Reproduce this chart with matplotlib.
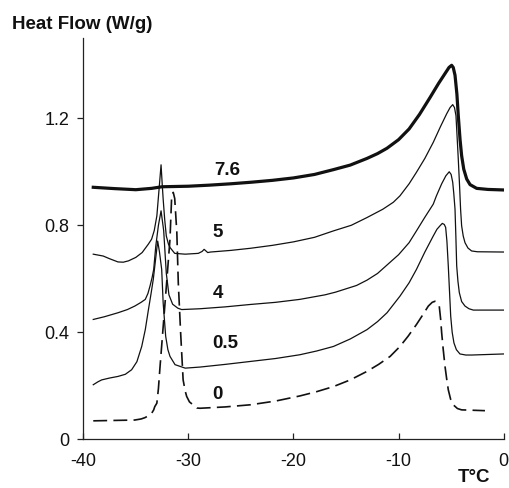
import matplotlib
matplotlib.use("Agg")
import matplotlib.pyplot as plt

plt.rcParams['font.family'] = ['Liberation Sans', 'DejaVu Sans']
plt.rcParams['lines.scale_dashes'] = False

# ---- data ----
x_76 = [-39.05, -37.0, -35.0, -33.5, -32.5, -30.0, -28.0, -26.0, -24.0, -22.0, -20.0, -18.0, -16.2,
        -14.6, -13.0, -12.0, -11.1, -10.0, -9.0, -8.0, -7.0, -6.2, -5.5, -5.2, -4.95, -4.8, -4.63,
        -4.45, -4.32, -4.15, -4.0, -3.8, -3.52, -3.2, -2.57, -1.5, 0.0]
y_76 = [0.942, 0.937, 0.933, 0.938, 0.944, 0.946, 0.950, 0.955, 0.961, 0.968, 0.977, 0.990, 1.008,
        1.025, 1.050, 1.068, 1.088, 1.120, 1.160, 1.215, 1.278, 1.330, 1.372, 1.390, 1.398, 1.390, 1.361,
        1.290, 1.210, 1.120, 1.060, 1.010, 0.973, 0.952, 0.938, 0.934, 0.932]

x_5 = [-39.05, -38.1, -37.5, -36.7, -36.2, -35.7, -35.0, -34.4, -33.8, -33.5, -33.25, -33.0, -32.8,
       -32.6, -32.5, -32.4, -32.25, -32.1, -31.9, -31.75, -31.3, -30.3, -29.06, -28.7, -28.5, -28.3,
       -28.16, -27.9, -26.0, -24.1, -22.0, -20.0, -18.0, -16.2, -14.5, -13.0, -11.5, -10.5, -9.87,
       -9.0, -8.3, -7.5, -6.7, -6.0, -5.42, -5.1, -4.85, -4.68, -4.54, -4.43, -4.32, -4.2, -4.1,
       -4.0, -3.85, -3.68, -3.4, -3.05, -2.5, 0.0]
y_5 = [0.692, 0.685, 0.675, 0.663, 0.662, 0.667, 0.680, 0.698, 0.730, 0.748, 0.780, 0.835, 0.930,
       1.026, 0.960, 0.898, 0.820, 0.760, 0.730, 0.717, 0.695, 0.692, 0.695, 0.702, 0.710, 0.703,
       0.698, 0.700, 0.706, 0.714, 0.725, 0.738, 0.755, 0.779, 0.800, 0.829, 0.860, 0.886, 0.910,
       0.955, 0.998, 1.050, 1.110, 1.170, 1.217, 1.240, 1.251, 1.240, 1.210, 1.130, 1.048, 0.950, 0.860,
       0.798, 0.760, 0.735, 0.715, 0.704, 0.701, 0.700]

x_4 = [-39.05, -38.0, -36.7, -35.8, -35.1, -34.5, -34.1, -33.85, -33.65, -33.45, -33.3, -33.1, -32.85,
       -32.6, -32.35, -32.1, -31.85, -31.5, -31.0, -30.64, -28.9, -26.5, -24.1, -21.7, -19.4, -17.0,
       -16.0, -14.0, -13.0, -12.0, -11.0, -10.0, -9.0, -8.3, -7.5, -6.7, -6.4, -5.9, -5.5, -5.18,
       -5.0, -4.85, -4.75, -4.63, -4.55, -4.47, -4.35, -4.22, -4.0, -3.68, -3.3, -2.89, 0.0]
y_4 = [0.448, 0.458, 0.473, 0.485, 0.498, 0.512, 0.523, 0.545, 0.573, 0.605, 0.635, 0.723, 0.800,
       0.854, 0.780, 0.620, 0.540, 0.505, 0.490, 0.485, 0.488, 0.495, 0.504, 0.512, 0.523, 0.540,
       0.550, 0.575, 0.595, 0.620, 0.655, 0.690, 0.735, 0.779, 0.830, 0.879, 0.910, 0.955, 0.985, 1.000,
       0.990, 0.961, 0.920, 0.860, 0.760, 0.648, 0.590, 0.548, 0.515, 0.498, 0.488, 0.483, 0.483]

x_05 = [-39.05, -38.6, -38.25, -37.5, -36.7, -36.0, -35.4, -34.9, -34.44, -34.1, -33.8, -33.55, -33.34,
        -33.1, -32.92, -32.75, -32.54, -32.4, -32.16, -31.95, -31.75, -31.27, -30.3, -28.9, -26.5,
        -24.1, -21.7, -19.4, -17.8, -16.2, -14.6, -13.0, -12.0, -11.1, -9.87, -9.0, -8.3, -7.5, -6.7,
        -6.35, -6.06, -5.84, -5.65, -5.52, -5.4, -5.27, -5.15, -5.04, -4.9, -4.73, -4.5, -4.16,
        -3.6, -3.05, 0.0]
y_05 = [0.204, 0.215, 0.222, 0.229, 0.235, 0.243, 0.260, 0.290, 0.347, 0.410, 0.485, 0.545, 0.598,
        0.680, 0.741, 0.700, 0.635, 0.510, 0.385, 0.335, 0.310, 0.279, 0.266, 0.270, 0.280,
        0.291, 0.302, 0.316, 0.330, 0.347, 0.375, 0.410, 0.440, 0.473, 0.535, 0.585, 0.635, 0.700, 0.760,
        0.785, 0.798, 0.807, 0.803, 0.792, 0.740, 0.648, 0.550, 0.460, 0.400, 0.360, 0.335, 0.319,
        0.315, 0.315, 0.319]

x_0 = [-39.05, -35.1, -34.5, -34.13, -33.8, -33.5, -33.3, -33.2, -33.0, -32.85, -32.7, -32.4, -32.07,
       -31.75, -31.6, -31.44, -31.3, -31.1, -30.96, -30.74, -30.5, -30.3, -30.16, -29.9, -29.2,
       -28.9, -26.5, -24.1, -21.7, -19.4, -17.8, -16.2, -14.6, -13.0, -11.9, -10.8, -9.87, -9.1,
       -8.3, -7.7, -7.17, -6.8, -6.54, -6.3, -6.13, -6.0, -5.9, -5.75, -5.58, -5.42, -5.27, -5.05,
       -4.8, -4.4, -4.0, -1.78]
y_0 = [0.069, 0.072, 0.076, 0.081, 0.088, 0.097, 0.110, 0.122, 0.135, 0.190, 0.270, 0.420, 0.585,
       0.748, 0.898, 0.923, 0.900, 0.774, 0.585, 0.400, 0.222, 0.180, 0.160, 0.140, 0.117,
       0.116, 0.121, 0.129, 0.143, 0.162, 0.178, 0.197, 0.222, 0.254, 0.280, 0.310, 0.347, 0.385,
       0.429, 0.465, 0.498, 0.512, 0.516, 0.510, 0.498, 0.450, 0.398, 0.335, 0.272, 0.225, 0.185, 0.150,
       0.129, 0.115, 0.110, 0.107]

labels = ['7.6', '5', '4', '0.5', '0']
label_x = [-26.3, -27.2, -27.23, -26.45, -27.2]
label_y = [1.004, 0.773, 0.545, 0.357, 0.169]

xticks = [-40, -30, -20, -10, 0]
yticks = [0, 0.4, 0.8, 1.2]
ytick_labels = ['0', '0.4', '0.8', '1.2']

# ---- figure ----
fig = plt.figure(figsize=(5.1, 4.88), dpi=100)
ax = fig.add_axes([0.1633, 0.0998, 0.8243, 0.8223])

ink = '#111111'
ax.plot(x_76, y_76, color=ink, lw=2.3, solid_joinstyle='round')
ax.plot(x_5, y_5, color=ink, lw=0.9, solid_joinstyle='round')
ax.plot(x_4, y_4, color=ink, lw=0.9, solid_joinstyle='round')
ax.plot(x_05, y_05, color=ink, lw=0.9, solid_joinstyle='round')
ax.plot(x_0, y_0, color=ink, lw=1.2, dashes=(10, 4.5))

for t, lx, ly in zip(labels, label_x, label_y):
    ax.text(lx, ly, t, ha='center', va='center', fontsize=13.5, fontweight='bold', color=ink)

ax.set_xlim(-40, 0)
ax.set_ylim(0, 1.5)
ax.set_xticks(xticks)
ax.set_xticklabels([str(v) for v in xticks])
ax.set_yticks(yticks)
ax.set_yticklabels(ytick_labels)
ax.spines['top'].set_visible(False)
ax.spines['right'].set_visible(False)
for s in ('left', 'bottom'):
    ax.spines[s].set_linewidth(0.9)
    ax.spines[s].set_color('#222222')
ax.tick_params(axis='x', direction='in', length=4, width=0.9, pad=10, labelsize=13, colors='#222222')
ax.tick_params(axis='y', direction='out', length=4, width=0.9, pad=6, labelsize=13, colors='#222222')
for lab in ax.get_xticklabels() + ax.get_yticklabels():
    lab.set_color('#111111')

fig.text(0.023, 0.941, 'Heat Flow (W/g)', fontsize=13.5, fontweight='bold', va='baseline', ha='left', color=ink)
fig.text(0.929, 0.012, 'T°C', fontsize=13.5, fontweight='bold', va='baseline', ha='center', color=ink)

fig.savefig('out.png', dpi=100)
